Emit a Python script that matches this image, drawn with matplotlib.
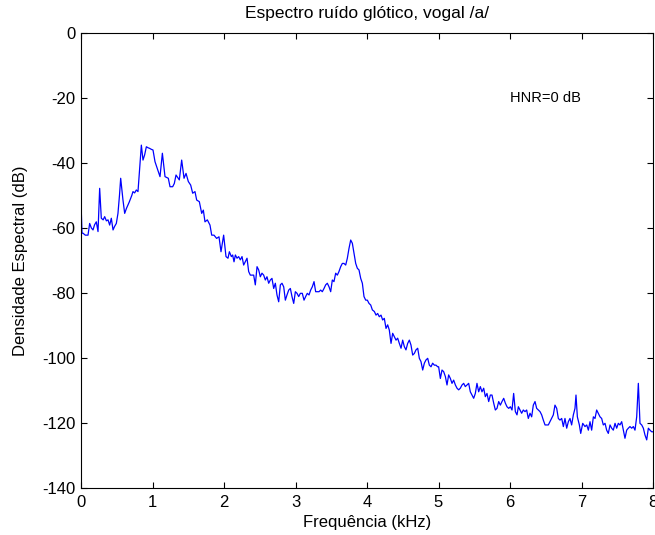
import matplotlib
matplotlib.use("Agg")
import matplotlib.pyplot as plt

plt.rcParams['font.family'] = ['Liberation Sans', 'DejaVu Sans']
plt.rcParams['axes.unicode_minus'] = False

freq_khz = [
    0.000, 0.014, 0.028, 0.060, 0.098, 0.121, 0.145, 0.168, 0.190, 0.214,
    0.238, 0.261, 0.284, 0.310, 0.331, 0.355, 0.378, 0.401, 0.424, 0.448,
    0.470, 0.494, 0.517, 0.538, 0.555, 0.570, 0.587, 0.611, 0.635, 0.657,
    0.675, 0.695, 0.710, 0.727, 0.750, 0.774, 0.797, 0.821, 0.844, 0.867,
    0.890, 0.914, 0.937, 0.960, 0.984, 1.007, 1.035, 1.082, 1.105, 1.138,
    1.175, 1.221, 1.245, 1.282, 1.305, 1.329, 1.375, 1.408, 1.441, 1.469,
    1.501, 1.534, 1.562, 1.594, 1.618, 1.655, 1.688, 1.711, 1.734, 1.767,
    1.804, 1.828, 1.860, 1.897, 1.930, 1.958, 1.995, 2.028, 2.056, 2.075,
    2.103, 2.121, 2.140, 2.159, 2.182, 2.205, 2.228, 2.252, 2.275, 2.298,
    2.322, 2.345, 2.368, 2.392, 2.415, 2.438, 2.462, 2.485, 2.508, 2.531,
    2.555, 2.578, 2.601, 2.625, 2.648, 2.671, 2.695, 2.718, 2.741, 2.765,
    2.788, 2.811, 2.835, 2.858, 2.881, 2.905, 2.928, 2.951, 2.975, 2.998,
    3.021, 3.045, 3.068, 3.095, 3.119, 3.142, 3.165, 3.189, 3.212, 3.235,
    3.259, 3.282, 3.305, 3.329, 3.352, 3.375, 3.399, 3.422, 3.445, 3.469,
    3.492, 3.515, 3.538, 3.562, 3.585, 3.608, 3.632, 3.655, 3.678, 3.702,
    3.725, 3.748, 3.772, 3.795, 3.818, 3.842, 3.865, 3.888, 3.912, 3.935,
    3.958, 3.982, 4.005, 4.028, 4.052, 4.075, 4.103, 4.126, 4.149, 4.172,
    4.196, 4.219, 4.242, 4.266, 4.289, 4.312, 4.336, 4.359, 4.382, 4.406,
    4.429, 4.452, 4.476, 4.499, 4.522, 4.545, 4.569, 4.592, 4.615, 4.639,
    4.662, 4.685, 4.709, 4.732, 4.755, 4.779, 4.802, 4.825, 4.849, 4.872,
    4.895, 4.918, 4.942, 4.965, 4.988, 5.002, 5.026, 5.049, 5.072, 5.096,
    5.119, 5.142, 5.166, 5.189, 5.212, 5.236, 5.259, 5.282, 5.305, 5.329,
    5.352, 5.375, 5.399, 5.422, 5.445, 5.469, 5.492, 5.515, 5.538, 5.562,
    5.585, 5.608, 5.632, 5.655, 5.678, 5.702, 5.725, 5.748, 5.772, 5.795,
    5.818, 5.842, 5.865, 5.888, 5.912, 5.935, 5.958, 5.982, 6.005, 6.028,
    6.051, 6.075, 6.098, 6.117, 6.140, 6.163, 6.186, 6.210, 6.233, 6.256,
    6.280, 6.303, 6.326, 6.350, 6.373, 6.396, 6.420, 6.443, 6.466, 6.490,
    6.513, 6.536, 6.559, 6.583, 6.606, 6.629, 6.653, 6.676, 6.699, 6.723,
    6.746, 6.769, 6.793, 6.816, 6.839, 6.862, 6.886, 6.909, 6.923, 6.942,
    6.970, 6.989, 7.017, 7.049, 7.073, 7.096, 7.119, 7.142, 7.166, 7.189,
    7.212, 7.235, 7.259, 7.282, 7.305, 7.329, 7.352, 7.375, 7.399, 7.422,
    7.445, 7.469, 7.492, 7.515, 7.538, 7.562, 7.585, 7.608, 7.632, 7.655,
    7.678, 7.702, 7.725, 7.748, 7.772, 7.795, 7.818, 7.842, 7.865, 7.888,
    7.912, 7.935, 7.958, 7.981, 8.000,
]

density_db = [
    -52.0, -61.6, -61.6, -62.2, -62.2, -58.6, -60.0, -60.6, -59.0, -58.1,
    -61.1, -47.8, -57.0, -57.5, -56.5, -57.8, -57.5, -59.1, -57.0, -60.6,
    -59.5, -58.6, -55.5, -50.0, -44.7, -48.0, -51.4, -55.5, -54.0, -52.9,
    -52.0, -50.9, -50.0, -48.8, -49.2, -48.3, -48.8, -41.6, -34.5, -39.1,
    -37.5, -35.0, -35.3, -35.5, -35.8, -36.0, -39.6, -42.7, -44.2, -37.0,
    -44.2, -44.7, -47.3, -47.3, -46.3, -43.7, -45.2, -39.1, -44.7, -43.2,
    -45.7, -46.8, -49.3, -48.8, -51.4, -51.9, -55.5, -54.5, -58.1, -57.5,
    -59.1, -62.2, -62.2, -63.2, -62.7, -67.3, -62.2, -68.8, -69.3, -67.3,
    -68.8, -68.3, -70.4, -68.3, -69.3, -68.8, -69.8, -68.8, -71.4, -70.4,
    -69.3, -73.4, -74.5, -74.5, -74.5, -77.5, -71.9, -72.9, -75.0, -73.9,
    -74.5, -76.0, -75.0, -77.0, -76.0, -75.5, -78.6, -77.0, -80.6, -82.7,
    -77.5, -77.0, -78.1, -82.2, -80.6, -79.1, -78.6, -81.1, -83.2, -79.6,
    -80.1, -81.1, -80.1, -80.1, -82.2, -81.1, -80.1, -80.6, -79.1, -78.1,
    -76.5, -79.6, -79.6, -79.6, -79.1, -79.6, -78.6, -77.5, -77.0, -78.1,
    -79.6, -76.0, -76.5, -73.9, -74.5, -73.4, -71.9, -70.9, -70.9, -71.4,
    -69.3, -66.3, -63.7, -64.7, -67.8, -70.9, -72.4, -72.9, -75.5, -77.0,
    -81.1, -82.2, -82.2, -83.2, -83.7, -85.2, -85.7, -86.8, -86.3, -87.3,
    -86.8, -88.3, -87.8, -90.9, -89.8, -91.4, -95.5, -92.4, -93.4, -94.5,
    -93.9, -95.5, -97.0, -94.5, -96.5, -97.5, -95.5, -94.5, -96.0, -99.1,
    -98.6, -97.5, -97.0, -100.1, -101.1, -103.7, -101.6, -100.6, -100.1, -102.2,
    -102.7, -101.6, -102.2, -102.2, -102.7, -102.7, -106.3, -103.7, -104.2, -105.7,
    -108.3, -105.2, -106.3, -107.8, -106.8, -108.3, -109.3, -109.8, -109.3, -108.3,
    -107.8, -108.8, -108.3, -107.8, -110.4, -111.4, -112.4, -110.9, -107.8, -110.4,
    -108.8, -110.4, -109.3, -111.9, -110.9, -113.4, -111.4, -111.4, -113.9, -116.0,
    -115.5, -113.4, -114.5, -113.4, -112.4, -113.9, -115.0, -115.5, -115.0, -116.0,
    -110.9, -116.5, -117.5, -115.0, -116.0, -117.0, -116.0, -116.5, -116.0, -118.6,
    -117.0, -118.1, -114.5, -113.4, -115.5, -116.0, -116.5, -117.5, -119.1, -120.6,
    -120.6, -120.6, -119.6, -118.6, -117.5, -114.5, -115.5, -118.6, -119.1, -118.6,
    -121.1, -118.6, -121.6, -119.6, -118.6, -120.6, -117.5, -115.5, -111.4, -118.1,
    -120.6, -123.2, -120.1, -121.1, -120.6, -122.2, -119.6, -122.2, -118.1, -118.6,
    -116.0, -117.0, -118.1, -118.6, -120.6, -120.1, -122.2, -123.2, -120.6, -121.6,
    -122.2, -120.1, -121.6, -120.1, -120.6, -119.6, -122.2, -124.7, -122.2, -121.6,
    -121.1, -121.6, -121.1, -122.2, -118.1, -107.8, -120.1, -120.6, -121.6, -123.7,
    -125.2, -121.6, -122.2, -122.7, -122.7,
]

x_ticks = [0, 1, 2, 3, 4, 5, 6, 7, 8]
y_ticks = [0, -20, -40, -60, -80, -100, -120, -140]

title = "Espectro ruído glótico, vogal /a/"
x_label = "Frequência (kHz)"
y_label = "Densidade Espectral (dB)"
annotation = "HNR=0 dB"

FS = 12

fig = plt.figure(figsize=(6.55, 5.35), dpi=100)
ax = fig.add_axes([81 / 655, 1 - 488 / 535, 572 / 655, 455 / 535])
ax.plot(freq_khz, density_db, color=(0, 0, 1), linewidth=0.9)
ax.set_xlim(0, 8)
ax.set_ylim(-140, 0)
ax.set_xticks(x_ticks)
ax.set_yticks(y_ticks)
ax.set_xticklabels([str(t) for t in x_ticks])
ax.set_yticklabels([str(t) for t in y_ticks])
ax.tick_params(direction='in', top=True, right=True, length=4, width=0.8,
               labelsize=FS)
ax.tick_params(axis='x', pad=5)
ax.tick_params(axis='y', pad=4)
for s in ax.spines.values():
    s.set_linewidth(0.8)
ax.set_title(title, fontsize=12.5, pad=11)
ax.set_xlabel(x_label, fontsize=FS, labelpad=4)
ax.set_ylabel(y_label, fontsize=FS, labelpad=10)
ax.text(6.0, -20, annotation, fontsize=10.5, va='center', ha='left')

fig.savefig("out.png", dpi=100)
